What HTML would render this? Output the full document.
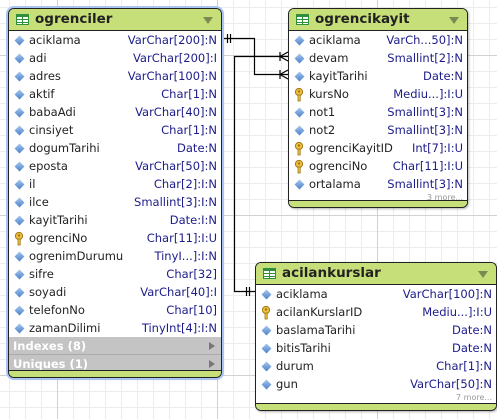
<!DOCTYPE html>
<html><head><meta charset="utf-8"><style>
*{margin:0;padding:0;box-sizing:border-box}
body{width:497px;height:419px;overflow:hidden;position:relative;font-family:"DejaVu Sans","Liberation Sans",sans-serif;
background-color:#fff;
background-image:linear-gradient(to right,#d2d2d2 1px,transparent 1px),linear-gradient(to bottom,#d2d2d2 1px,transparent 1px),linear-gradient(to right,#ececec 1px,transparent 1px),linear-gradient(to bottom,#ececec 1px,transparent 1px);
background-size:160px 160px,160px 160px,16px 16px,16px 16px;
background-position:57px 0,0 55px,9px 0,0 7px;}
.t{position:absolute;background:#fff;border:1px solid #222;border-radius:6px;overflow:hidden;box-shadow:1px 1px 2px rgba(0,0,0,.3)}
.sel{box-shadow:0 0 0 2px #a9c3f2,1px 1px 2px rgba(0,0,0,.3)}
.h{height:22px;background:#c6df79;border-bottom:1px solid #222;font-weight:bold;font-size:13.5px;line-height:21px;padding-left:26px;color:#222;position:relative}
.h .ic{position:absolute;left:7px;top:5px;width:13px;height:11px;background:#2f8f3a;border:1px solid #2f8f3a}
.h .ic:before{content:"";position:absolute;left:0;top:2px;width:11px;height:7px;background:linear-gradient(to bottom,#fff 0 2px,#2f8f3a 2px 3px,#fff 3px 5px,#2f8f3a 5px 6px,#fff 6px);}
.h .ic:after{content:"";position:absolute;left:5px;top:2px;width:1px;height:7px;background:#2f8f3a}
.h .ar{position:absolute;right:8px;top:8px;width:0;height:0;border-left:5px solid transparent;border-right:5px solid transparent;border-top:7px solid #7a8a50}
.r{height:18px;position:relative;font-size:11.5px;line-height:18px;color:#222}
.r .n{position:absolute;left:20px}
.r .y{position:absolute;right:4px;color:#1c1c8a}
.d{position:absolute;left:7px;top:6px;width:7px;height:7px;transform:rotate(45deg);background:linear-gradient(135deg,#a8c8f0,#4a80c8)}
.k{position:absolute;left:5px;top:3px;width:10px;height:14px}
.more{font-size:8px;color:#999;text-align:right;padding-right:4px;height:10px;line-height:9px}
.f{position:absolute;left:0;right:0;bottom:0;height:7px;background:#c6df79;border-top:1px solid #222}
.g{height:18px;background:#c4c4c4;border-bottom:1px solid #aaa;color:#fff;font-weight:bold;font-size:11.5px;line-height:18px;padding-left:4px;position:relative}
.g:after{content:"";position:absolute;right:6px;top:5px;border-top:4px solid transparent;border-bottom:4px solid transparent;border-left:6px solid #777}
</style></head><body>
<svg width="497" height="419" style="position:absolute;left:0;top:0" fill="none" stroke="#000" stroke-width="1.2">
<polyline points="222,38.5 254.5,38.5 254.5,74.5 288,74.5"/>
<polyline points="288,56.5 234.5,56.5 234.5,291.5 255,291.5"/>
<line x1="227.5" y1="34" x2="227.5" y2="43"/><line x1="230.5" y1="34" x2="230.5" y2="43"/>
<line x1="246.5" y1="287" x2="246.5" y2="296"/><line x1="249.5" y1="287" x2="249.5" y2="296"/>
<line x1="280" y1="52" x2="280" y2="61"/><polyline points="288,52 280,56.5 288,61"/>
<line x1="280" y1="70" x2="280" y2="79"/><polyline points="288,70 280,74.5 288,79"/>
</svg>
<svg width="0" height="0" style="position:absolute"><defs><g id="key"><circle cx="5" cy="4" r="3.6" fill="#f0c040" stroke="#a07810" stroke-width="1"/><circle cx="5" cy="3.5" r="1.2" fill="#a07810"/><rect x="4" y="7" width="2.2" height="6" fill="#f0c040" stroke="#a07810" stroke-width=".8"/></g></defs></svg>

<div class="t sel" style="left:8px;top:8px;width:214px;height:370px">
<div class="h"><span class="ic"></span>ogrenciler<span class="ar"></span></div>
<div class="r"><i class="d"></i><span class="n">aciklama</span><span class="y">VarChar[200]:N</span></div>
<div class="r"><i class="d"></i><span class="n">adi</span><span class="y">VarChar[200]:I</span></div>
<div class="r"><i class="d"></i><span class="n">adres</span><span class="y">VarChar[100]:N</span></div>
<div class="r"><i class="d"></i><span class="n">aktif</span><span class="y">Char[1]:N</span></div>
<div class="r"><i class="d"></i><span class="n">babaAdi</span><span class="y">VarChar[40]:N</span></div>
<div class="r"><i class="d"></i><span class="n">cinsiyet</span><span class="y">Char[1]:N</span></div>
<div class="r"><i class="d"></i><span class="n">dogumTarihi</span><span class="y">Date:N</span></div>
<div class="r"><i class="d"></i><span class="n">eposta</span><span class="y">VarChar[50]:N</span></div>
<div class="r"><i class="d"></i><span class="n">il</span><span class="y">Char[2]:I:N</span></div>
<div class="r"><i class="d"></i><span class="n">ilce</span><span class="y">Smallint[3]:I:N</span></div>
<div class="r"><i class="d"></i><span class="n">kayitTarihi</span><span class="y">Date:I:N</span></div>
<div class="r"><svg class="k"><use href="#key"/></svg><span class="n">ogrenciNo</span><span class="y">Char[11]:I:U</span></div>
<div class="r"><i class="d"></i><span class="n">ogrenimDurumu</span><span class="y">TinyI...]:I:N</span></div>
<div class="r"><i class="d"></i><span class="n">sifre</span><span class="y">Char[32]</span></div>
<div class="r"><i class="d"></i><span class="n">soyadi</span><span class="y">VarChar[40]:I</span></div>
<div class="r"><i class="d"></i><span class="n">telefonNo</span><span class="y">Char[10]</span></div>
<div class="r"><i class="d"></i><span class="n">zamanDilimi</span><span class="y">TinyInt[4]:I:N</span></div>
<div class="g">Indexes (8)</div>
<div class="g">Uniques (1)</div>
<div class="f"></div>
</div>

<div class="t" style="left:288px;top:8px;width:180px;height:200px">
<div class="h"><span class="ic"></span>ogrencikayit<span class="ar"></span></div>
<div class="r"><i class="d"></i><span class="n">aciklama</span><span class="y">VarCh...50]:N</span></div>
<div class="r"><i class="d"></i><span class="n">devam</span><span class="y">Smallint[2]:N</span></div>
<div class="r"><i class="d"></i><span class="n">kayitTarihi</span><span class="y">Date:N</span></div>
<div class="r"><svg class="k"><use href="#key"/></svg><span class="n">kursNo</span><span class="y">Mediu...]:I:U</span></div>
<div class="r"><i class="d"></i><span class="n">not1</span><span class="y">Smallint[3]:N</span></div>
<div class="r"><i class="d"></i><span class="n">not2</span><span class="y">Smallint[3]:N</span></div>
<div class="r"><svg class="k"><use href="#key"/></svg><span class="n">ogrenciKayitID</span><span class="y">Int[7]:I:U</span></div>
<div class="r"><svg class="k"><use href="#key"/></svg><span class="n">ogrenciNo</span><span class="y">Char[11]:I:U</span></div>
<div class="r"><i class="d"></i><span class="n">ortalama</span><span class="y">Smallint[3]:N</span></div>
<div class="more">3 more...</div>
<div class="f"></div>
</div>

<div class="t" style="left:255px;top:262px;width:242px;height:149px">
<div class="h"><span class="ic"></span>acilankurslar<span class="ar"></span></div>
<div class="r"><i class="d"></i><span class="n">aciklama</span><span class="y">VarChar[100]:N</span></div>
<div class="r"><svg class="k"><use href="#key"/></svg><span class="n">acilanKurslarID</span><span class="y">Mediu...]:I:U</span></div>
<div class="r"><i class="d"></i><span class="n">baslamaTarihi</span><span class="y">Date:N</span></div>
<div class="r"><i class="d"></i><span class="n">bitisTarihi</span><span class="y">Date:N</span></div>
<div class="r"><i class="d"></i><span class="n">durum</span><span class="y">Char[1]:N</span></div>
<div class="r"><i class="d"></i><span class="n">gun</span><span class="y">VarChar[50]:N</span></div>
<div class="more">7 more...</div>
<div class="f"></div>
</div>
</body></html>
